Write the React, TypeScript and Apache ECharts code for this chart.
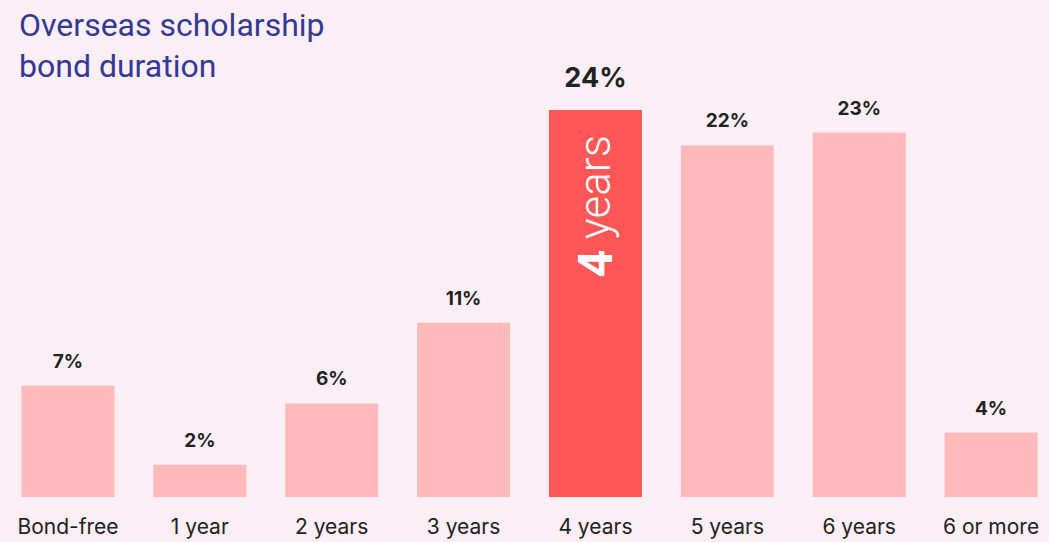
import React, { useEffect, useRef } from "react";
import * as echarts from "echarts";

const categories = ["Bond-free", "1 year", "2 years", "3 years", "4 years", "5 years", "6 years", "6 or more"];
const values = [6.9, 2.0, 5.8, 10.8, 24.0, 21.8, 22.6, 4.0];
const highlightIndex = 4;
const titleLines = ["Overseas scholarship", "bond duration"];

export default function App() {
  const ref = useRef<HTMLDivElement>(null);
  useEffect(() => {
    if (!ref.current) return;
    document.body.style.overflow = "hidden";
    const chart = echarts.init(ref.current, null, { renderer: "svg" });
    const mainData = values.map((v, i) =>
      i === highlightIndex
        ? {
            value: v,
            itemStyle: { color: "#ff5757" },
            label: { fontSize: 27, distance: 19 },
          }
        : v
    );
    const overlayData = values.map((v, i) => (i === highlightIndex ? v : "-"));
    chart.setOption({
      animation: false,
      backgroundColor: "#fbeef4",
      title: {
        text: titleLines.join("\n"),
        left: 14,
        top: -1,
        textStyle: {
          fontFamily: "Roboto",
          fontWeight: 400,
          fontSize: 32,
          lineHeight: 41,
          color: "#333a96",
        },
      },
      grid: { left: 2, right: 0, top: 110, bottom: 45, containLabel: false },
      xAxis: {
        type: "category",
        data: categories,
        axisLine: { show: false },
        axisTick: { show: false },
        axisLabel: {
          interval: 0,
          margin: 19,
          fontFamily: "Inter",
          fontSize: 21,
          color: "#222",
        },
      },
      yAxis: { type: "value", min: 0, max: 24, show: false },
      series: [
        {
          type: "bar",
          data: mainData,
          barWidth: 93,
          itemStyle: { color: "#ffb9b9" },
          label: {
            show: true,
            position: "top",
            distance: 15,
            formatter: (p: any) => Math.round(p.value) + "%",
            fontFamily: "Inter",
            fontWeight: 700,
            fontSize: 19,
            color: "#222",
          },
        },
        {
          type: "bar",
          data: overlayData,
          barWidth: 93,
          barGap: "-100%",
          itemStyle: { color: "rgba(0,0,0,0)" },
          silent: true,
          label: {
            show: true,
            position: "insideTop",
            distance: 25,
            rotate: 90,
            align: "right",
            verticalAlign: "middle",
            formatter: "{a|4}{s| }{b|years}",
            color: "#fff",
            fontSize: 44,
            rich: {
              a: { fontFamily: "Roboto", fontWeight: 700, fontSize: 48, color: "#fff" },
              s: { fontFamily: "Roboto", fontWeight: 300, fontSize: 44, color: "#fff" },
              b: { fontFamily: "Roboto", fontWeight: 300, fontSize: 44, color: "#fff" },
            },
          },
        },
      ],
    });
    return () => chart.dispose();
  }, []);
  return (
    <div
      ref={ref}
      style={{ position: "fixed", left: 0, top: 0, width: 1057, height: 542 }}
    />
  );
}
